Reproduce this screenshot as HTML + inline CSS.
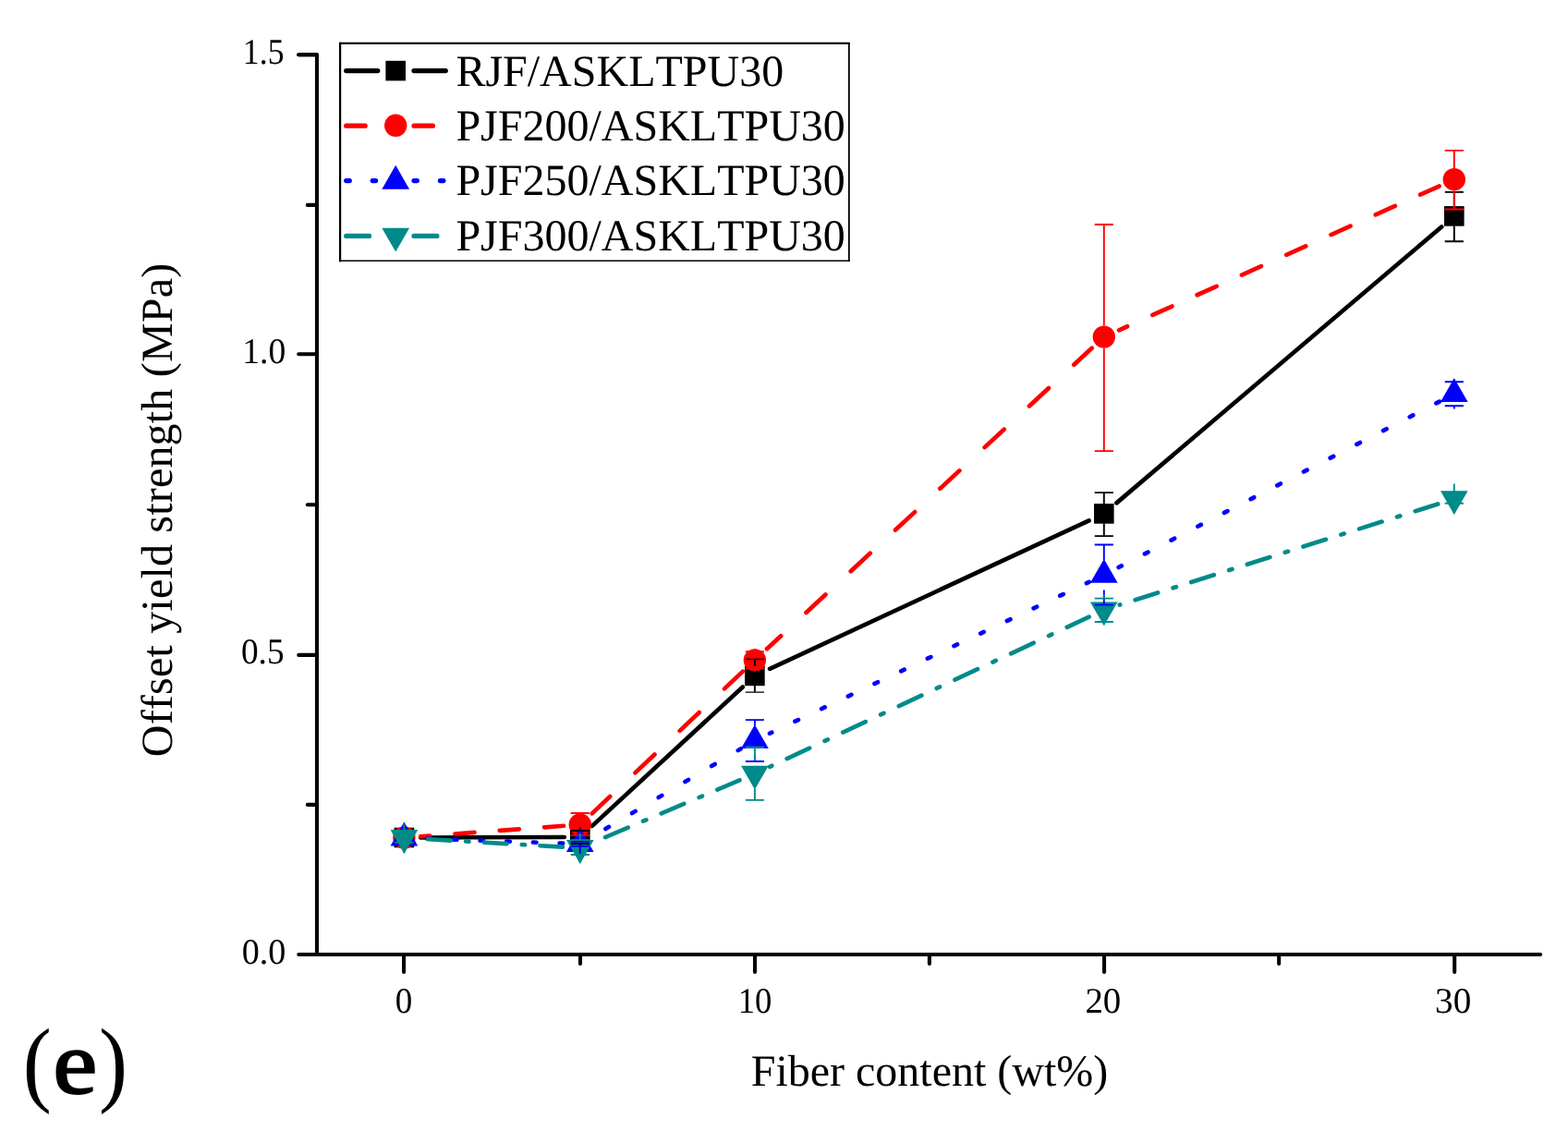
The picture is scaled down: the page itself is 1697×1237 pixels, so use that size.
<!DOCTYPE html>
<html lang="en">
<head>
<meta charset="utf-8">
<title>Offset yield strength vs fiber content (e)</title>
<style>
html,body{margin:0;padding:0;background:#fff;}
body{width:1697px;height:1237px;overflow:hidden;}
svg{display:block;}
text{white-space:pre;font-kerning:none;font-variant-ligatures:none;text-rendering:geometricPrecision;}
</style>
</head>
<body>
<svg width="1697" height="1237" viewBox="0 0 1697 1237" role="img" aria-label="Offset yield strength versus fiber content">
<rect width="1697" height="1237" fill="#ffffff"/>
<g stroke="#000" stroke-width="4.07" stroke-linecap="round" stroke-linejoin="round" fill="none">
<path d="M323.27 59.2 H342.97 V1033 H1667.16"/>
<path d="M342.97 1033 H323.27"/>
<path d="M342.97 708.9 H323.27"/>
<path d="M342.97 383.2 H323.27"/>
<path d="M342.97 59.2 H323.27"/>
<path d="M342.97 870.9 H332.87"/>
<path d="M342.97 546.2 H332.87"/>
<path d="M342.97 221.9 H332.87"/>
<path d="M437.05 1033 V1052"/>
<path d="M817 1033 V1052"/>
<path d="M1195.05 1033 V1052"/>
<path d="M1574.2 1033 V1052"/>
<path d="M628 1033 V1042.9"/>
<path d="M1005.9 1033 V1042.9"/>
<path d="M1384.15 1033 V1042.9"/>
</g>
<g font-family="'Liberation Serif', serif" fill="#000">
<text transform="translate(261.65 1042.6) scale(0.9736 1)" font-size="39.2">0.0</text>
<text transform="translate(260.88 717.6) scale(0.9527 1)" font-size="39.2">0.5</text>
<text transform="translate(262.19 392.6) scale(0.9600 1)" font-size="39.2">1.0</text>
<text transform="translate(262.86 68.6) scale(0.9109 1)" font-size="39.2">1.5</text>
<text transform="translate(427.69 1096.2) scale(0.9498 1)" font-size="39">0</text>
<text transform="translate(798.68 1096.2) scale(0.9388 1)" font-size="39">10</text>
<text transform="translate(1174.39 1096.2) scale(0.9972 1)" font-size="39">20</text>
<text transform="translate(1553.12 1096.2) scale(1.0071 1)" font-size="39">30</text>
</g>
<g font-family="'Liberation Serif', serif" font-size="48" fill="#000">
<text x="1006" y="1174.8" text-anchor="middle">Fiber content (wt%)</text>
<text transform="translate(186 551.9) rotate(-90)" text-anchor="middle" letter-spacing="0.2">Offset yield strength (MPa)</text>
</g>
<g font-family="'Liberation Serif', serif" fill="#000">
<text><tspan x="24.7" y="1184" font-size="102.8" textLength="30.98" lengthAdjust="spacingAndGlyphs">(</tspan><tspan x="57.51" y="1182.55" font-size="97.1" stroke="#000" stroke-width="2.2" textLength="47.61" lengthAdjust="spacingAndGlyphs">e</tspan><tspan x="107" y="1184" font-size="102.8" textLength="30.98" lengthAdjust="spacingAndGlyphs">)</tspan></text>
</g>
<g fill="none" stroke="#000000" stroke-linecap="round">
<path d="M455.2 906.45 L610.8 906.04" stroke-width="4.6"/>
<path d="M640.88 893.92 L803.82 743.48" stroke-width="4.6"/>
<path d="M833.09 723.88 L1178.61 563.42" stroke-width="4.7"/>
<path d="M1208.4 544.34 L1560.2 245.46" stroke-width="4.7"/>
</g>
<g>
<rect x="426.6" y="895.7" width="21.6" height="21.6" fill="#000000"/>
<rect x="617" y="895.2" width="21.6" height="21.6" fill="#000000"/>
<rect x="806.1" y="720.6" width="21.6" height="21.6" fill="#000000"/>
<rect x="1184" y="545.1" width="21.6" height="21.6" fill="#000000"/>
<rect x="1563" y="223.1" width="21.6" height="21.6" fill="#000000"/>
</g>
<g fill="none" stroke="#ff0000" stroke-linecap="round">
<path d="M455.15 905.19 L610.85 893.75" stroke-width="4.6" stroke-dasharray="21.16 27.27" stroke-dashoffset="11.08"/>
<path d="M640.76 880.3 L803.94 726.6" stroke-width="4.6" stroke-dasharray="28.99 37.36" stroke-dashoffset="2.28"/>
<path d="M830 702.27 L1181.7 376.73" stroke-width="4.7" stroke-dasharray="28.62 37.2" stroke-dashoffset="7.97"/>
<path d="M1211.08 357.28 L1557.52 201.52" stroke-width="4.7" stroke-dasharray="23.02 29.93" stroke-dashoffset="13.19"/>
</g>
<g>
<circle cx="437.4" cy="906.5" r="12.2" fill="#ff0000"/>
<circle cx="627.8" cy="892.5" r="12.2" fill="#ff0000"/>
<circle cx="816.9" cy="714.4" r="12.2" fill="#ff0000"/>
<circle cx="1194.8" cy="364.6" r="12.2" fill="#ff0000"/>
<circle cx="1573.8" cy="194.2" r="12.2" fill="#ff0000"/>
</g>
<g fill="none" stroke="#0000ff" stroke-linecap="round">
<path d="M455.19 907.41 L610.81 912.72" stroke-width="4.6" stroke-dasharray="3.6 25.09" stroke-dashoffset="21.66"/>
<path d="M643.12 904.24 L801.58 810.46" stroke-width="4.6" stroke-dasharray="4.18 29.14" stroke-dashoffset="19.03"/>
<path d="M833.03 793.75 L1178.67 629.85" stroke-width="4.7" stroke-dasharray="3.87 27.87" stroke-dashoffset="1.37"/>
<path d="M1210.66 614.01 L1557.94 434.59" stroke-width="4.7" stroke-dasharray="3.94 28.34" stroke-dashoffset="0.44"/>
</g>
<g>
<polygon points="437.4,889.6 452.25,915.4 422.55,915.4" fill="#0000ff"/>
<polygon points="627.8,896.1 642.65,921.9 612.95,921.9" fill="#0000ff"/>
<polygon points="816.9,784.2 831.75,810 802.05,810" fill="#0000ff"/>
<polygon points="1194.8,605 1209.65,630.8 1179.95,630.8" fill="#0000ff"/>
<polygon points="1573.8,409.2 1588.65,435 1558.95,435" fill="#0000ff"/>
</g>
<g fill="none" stroke="#008a8a" stroke-linecap="round">
<path d="M455.17 907.73 L610.83 916.72" stroke-width="4.6" stroke-dasharray="24.64 16.33 3.41 16.33" stroke-dashoffset="52.66"/>
<path d="M644.18 910.74 L800.52 844.36" stroke-width="4.6" stroke-dasharray="26.73 17.71 3.69 17.71" stroke-dashoffset="53.98"/>
<path d="M833.06 829.81 L1178.64 667.59" stroke-width="4.7" stroke-dasharray="27.07 18.12 3.65 18.12" stroke-dashoffset="46.41"/>
<path d="M1211.81 654.6 L1556.79 545.2" stroke-width="4.7" stroke-dasharray="25.7 17.21 3.46 17.21" stroke-dashoffset="45.91"/>
</g>
<g>
<polygon points="437.4,923.9 452.25,898.1 422.55,898.1" fill="#008a8a"/>
<polygon points="627.8,934.9 642.65,909.1 612.95,909.1" fill="#008a8a"/>
<polygon points="816.9,854.6 831.75,828.8 802.05,828.8" fill="#008a8a"/>
<polygon points="1194.8,677.2 1209.65,651.4 1179.95,651.4" fill="#008a8a"/>
<polygon points="1573.8,557 1588.65,531.2 1558.95,531.2" fill="#008a8a"/>
</g>
<g fill="none" stroke="#000000" stroke-width="1.9">
<path d="M617.7 899 H637.9 M617.7 913 H637.9 M627.8 895.3 V899 M627.8 916.7 V913"/>
<path d="M806.8 713.3 H827 M806.8 749.1 H827" stroke-width="1.3"/><path d="M816.9 720.7 V713.3 M816.9 742.1 V749.1"/>
<path d="M1184.7 533.1 H1204.9 M1184.7 580.1 H1204.9 M1194.8 545.2 V533.1 M1194.8 566.6 V580.1"/>
<path d="M1563.7 207.9 H1583.9 M1563.7 261.2 H1583.9 M1573.8 223.2 V207.9 M1573.8 244.6 V261.2"/>
</g>
<g fill="none" stroke="#ff0000" stroke-width="1.9">
<path d="M617.7 880 H637.9 M617.7 904 H637.9 M627.8 880.3 V880 M627.8 904.7 V904"/>
<path d="M806.8 705.3 H827 M806.8 723.5 H827 M816.9 702.2 V705.3 M816.9 726.6 V723.5"/>
<path d="M1184.7 243 H1204.9 M1184.7 488.1 H1204.9 M1194.8 352.4 V243 M1194.8 376.8 V488.1"/>
<path d="M1563.7 162.9 H1583.9 M1563.7 226.5 H1583.9 M1573.8 182 V162.9 M1573.8 206.4 V226.5"/>
</g>
<g fill="none" stroke="#0000ff" stroke-width="1.9">
<path d="M617.7 910.8 H637.9 M617.7 915.8 H637.9 M627.8 897.1 V910.8 M627.8 924.3 V915.8"/>
<path d="M806.8 779.1 H827 M806.8 824 H827 M816.9 785.2 V779.1 M816.9 817.6 V824"/>
<path d="M1184.7 589.45 H1204.9 M1184.7 654.6 H1204.9 M1194.8 606 V589.45 M1194.8 638.4 V654.6"/>
<path d="M1563.7 413.3 H1583.9 M1563.7 439.2 H1583.9 M1573.8 410.2 V413.3 M1573.8 442.6 V439.2"/>
</g>
<g fill="none" stroke="#008a8a" stroke-width="1.9">
<path d="M427.3 901.5 H447.5 M427.3 911.9 H447.5 M437.4 890.5 V901.5 M437.4 922.9 V911.9"/>
<path d="M617.7 909.1 H637.9 M617.7 925 H637.9 M627.8 901.5 V909.1 M627.8 933.9 V925"/>
<path d="M806.8 808.7 H827 M806.8 865.9 H827 M816.9 823 V808.7 M816.9 853.6 V865.9"/>
<path d="M1184.7 647.6 H1204.9 M1184.7 673 H1204.9 M1194.8 643.8 V647.6 M1194.8 676.2 V673"/>
<path d="M1563.7 534.8 H1583.9 M1563.7 544.8 H1583.9 M1573.8 523.6 V534.8 M1573.8 556 V544.8"/>
</g>
<rect x="368.1" y="46.9" width="550.75" height="235.4" fill="#fff"/>
<g stroke="#000" fill="none" stroke-linecap="square">
<path d="M368.1 46.9 V282.3" stroke-width="2.2"/>
<path d="M368.1 46.9 H918.85" stroke-width="2.1"/>
<path d="M918.85 46.9 V282.3" stroke-width="1.8"/>
<path d="M368.1 282.3 H918.85" stroke-width="1.5"/>
</g>
<g fill="none" stroke="#000000" stroke-width="5.2" stroke-linecap="round">
<path d="M374.7 76.6 H408.8M448 76.6 H482.3"/>
</g>
<rect x="417.4" y="65.8" width="21.6" height="21.6" fill="#000000"/>
<text x="493.4" y="93" font-family="'Liberation Serif', serif" font-size="48" fill="#000">RJF/ASKLTPU30</text>
<g fill="none" stroke="#ff0000" stroke-width="5.2" stroke-linecap="round">
<path d="M374.7 136.2 H395.2M448 136.2 H468.5"/>
</g>
<circle cx="428.2" cy="135.8" r="12.2" fill="#ff0000"/>
<text x="493.4" y="152.1" font-family="'Liberation Serif', serif" font-size="48" fill="#000">PJF200/ASKLTPU30</text>
<g fill="none" stroke="#0000ff" stroke-width="5.2" stroke-linecap="round">
<path d="M374.7 195.6 H378.3M403.2 195.6 H406.6M448 195.6 H451.3M476.4 195.6 H479.9"/>
</g>
<polygon points="428.2,178.85 443.05,204.65 413.35,204.65" fill="#0000ff"/>
<text x="493.4" y="211.2" font-family="'Liberation Serif', serif" font-size="48" fill="#000">PJF250/ASKLTPU30</text>
<g fill="none" stroke="#008a8a" stroke-width="5.2" stroke-linecap="round">
<path d="M374.7 255.4 H399.6M448 255.4 H472.9"/>
</g>
<polygon points="428.2,272.6 443.05,246.8 413.35,246.8" fill="#008a8a"/>
<text x="493.4" y="270.8" font-family="'Liberation Serif', serif" font-size="48" fill="#000">PJF300/ASKLTPU30</text>
</svg>
</body>
</html>
